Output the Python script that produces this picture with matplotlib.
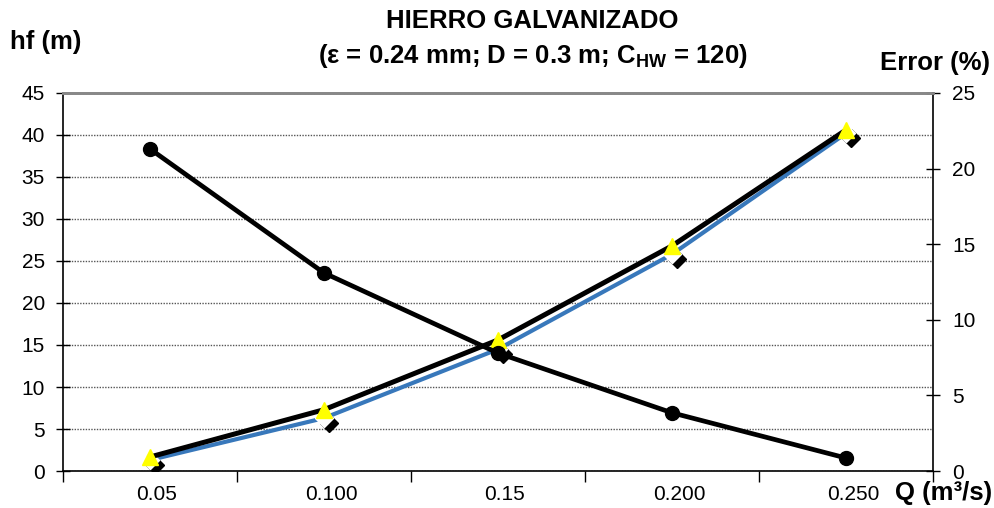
import matplotlib
matplotlib.use("Agg")
import matplotlib.pyplot as plt
import matplotlib.transforms as mtransforms

plt.rcParams['font.family'] = ['Liberation Sans', 'DejaVu Sans']
plt.rcParams['mathtext.fontset'] = 'custom'
plt.rcParams['mathtext.bf'] = 'Liberation Sans:bold'
plt.rcParams['mathtext.rm'] = 'Liberation Sans'

# datos
caudales = ["0.05", "0.100", "0.15", "0.200", "0.250"]
hf_dw = [1.67, 7.3, 15.6, 26.8, 40.6]      # linea negra, triangulos
hf_hw = [1.31, 6.3, 14.5, 25.8, 40.2]      # linea azul, rombos
error = [21.3, 13.1, 7.8, 3.85, 0.86]      # eje derecho

x = list(range(len(caudales)))

fig = plt.figure(figsize=(9.95, 5.08), dpi=100)
ax1 = fig.add_axes([0.0633, 0.0728, 0.8744, 0.7442])
ax2 = ax1.twinx()

# sombra de los rombos
shadow = mtransforms.offset_copy(ax1.transData, fig=fig, x=5, y=-5, units='dots')
ax1.plot(x, hf_hw, linestyle='none', marker='D', markersize=9,
         color='black', transform=shadow, zorder=3)
ax1.plot(x, hf_hw, color='#3878bb', linewidth=3, marker='D', markersize=9,
         markerfacecolor='white', markeredgecolor='white', zorder=4)
ax1.plot(x, hf_dw, color='black', linewidth=3.6, marker='^', markersize=12,
         markerfacecolor='#ffff00', markeredgecolor='#ffff00', zorder=5)

ax2.plot(x, error, color='black', linewidth=3.4, marker='o', markersize=10, zorder=6)

ax1.set_xlim(-0.5, 4.5)
ax1.set_ylim(0, 45)
ax2.set_ylim(0, 25)
ax1.set_yticks(range(0, 46, 5))
ax2.set_yticks(range(0, 26, 5))

ax1.set_xticks(x)
ax1.set_xticklabels(caudales)
ax1.set_xticks([i + 0.5 for i in range(-1, 5)], minor=True)
ax1.tick_params(axis='x', which='major', length=0, pad=10, labelsize=15)
ax1.tick_params(axis='x', which='minor', direction='out', length=8, width=1)
lbl_off = mtransforms.ScaledTranslation(7 / 100, 0, fig.dpi_scale_trans)
for lbl in ax1.get_xticklabels():
    lbl.set_transform(lbl.get_transform() + lbl_off)

ax1.tick_params(axis='y', direction='inout', length=10, width=1, labelsize=15, pad=8)
ax2.tick_params(axis='y', direction='inout', length=10, width=1, labelsize=15, pad=9)

ax1.yaxis.grid(True, linestyle=(0, (1, 1)), color='#555555', linewidth=1)
ax1.set_axisbelow(True)

for sp in ['left', 'bottom']:
    ax1.spines[sp].set_linewidth(1.2)
ax2.spines['right'].set_linewidth(1.2)
ax1.spines['top'].set_color('#888888')
ax1.spines['top'].set_linewidth(2)
ax2.spines['top'].set_color('#888888')
ax2.spines['top'].set_linewidth(2)
ax1.spines['right'].set_visible(False)
ax2.spines['left'].set_visible(False)
ax2.spines['bottom'].set_visible(False)

fig.text(0.535, 0.958, "HIERRO GALVANIZADO", ha='center', va='center',
         fontsize=18.5, fontweight='bold')
fig.text(0.535, 0.89, r"(ε = 0.24 mm; D = 0.3 m; C$_{\mathbf{HW}}$ = 120)",
         ha='center', va='center', fontsize=18.5, fontweight='bold')
fig.text(0.01, 0.918, "hf (m)", ha='left', va='center', fontsize=18.5, fontweight='bold')
fig.text(0.995, 0.876, "Error (%)", ha='right', va='center', fontsize=18.5, fontweight='bold')
fig.text(0.997, 0.03, "Q (m³/s)", ha='right', va='center', fontsize=18.5, fontweight='bold')

fig.savefig("out.png", dpi=100)
